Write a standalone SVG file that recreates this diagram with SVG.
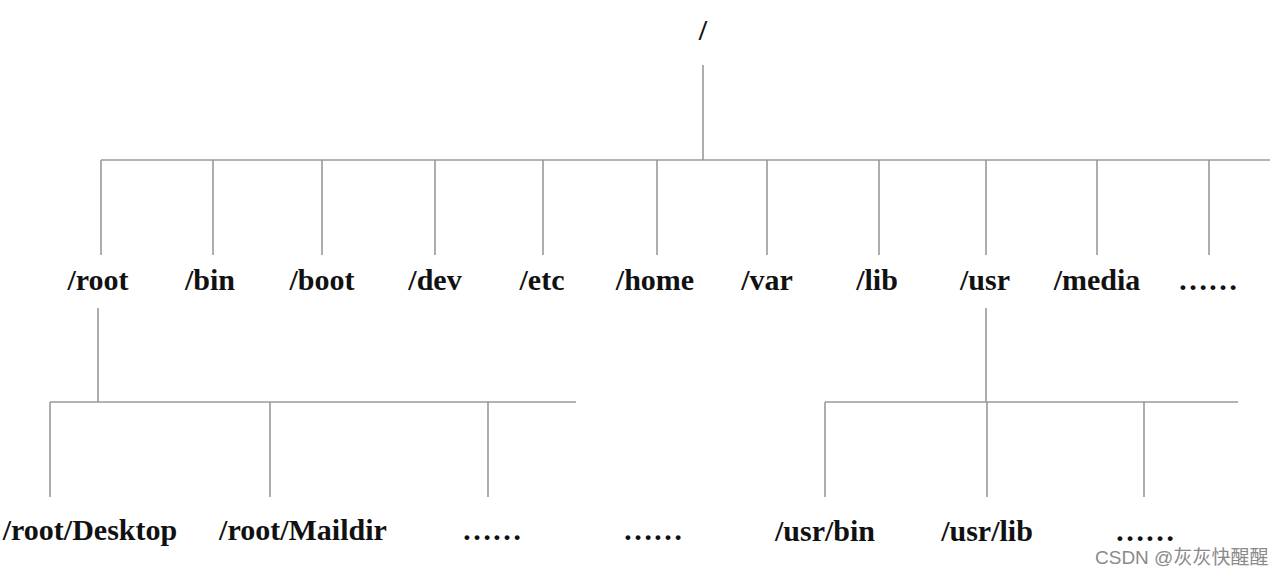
<svg xmlns="http://www.w3.org/2000/svg" width="1281" height="578" viewBox="0 0 1281 578">
<style>
.l{stroke:#9a9a9a;stroke-width:1.6;fill:none}
.t{font-family:"Liberation Serif",serif;font-weight:bold;font-size:30px;fill:#111;text-anchor:middle}
.w{font-family:"Liberation Sans","Noto Sans CJK SC",sans-serif;font-size:19px;fill:#8a8a8a}
</style>
<rect width="1281" height="578" fill="#fff"/>
<g id="connectors">
<path class="l" d="M703 65V160M101 160H1270M101 160V255M213 160V255M322 160V255M435 160V255M543 160V255M657 160V255M767 160V255M879 160V255M986 160V255M1097 160V255M1209 160V255"/>
<path class="l" d="M98 308V402M50 402H576M50 402V497M270 402V497M488 402V497"/>
<path class="l" d="M986 308V402M825 402H1238M825 402V497M987 402V497M1144 402V497"/>
</g>
<g id="n-root-dir"><text class="t" x="703" y="40" font-weight="normal" font-size="26" fill="#444">/</text></g>
<g id="n-root"><text class="t" x="98" y="290">/root</text></g>
<g id="n-bin"><text class="t" x="210" y="290">/bin</text></g>
<g id="n-boot"><text class="t" x="322" y="290">/boot</text></g>
<g id="n-dev"><text class="t" x="435" y="290">/dev</text></g>
<g id="n-etc"><text class="t" x="542" y="290">/etc</text></g>
<g id="n-home"><text class="t" x="655" y="290">/home</text></g>
<g id="n-var"><text class="t" x="767" y="290">/var</text></g>
<g id="n-lib"><text class="t" x="877" y="290">/lib</text></g>
<g id="n-usr"><text class="t" x="985" y="290">/usr</text></g>
<g id="n-media"><text class="t" x="1097" y="290">/media</text></g>
<g id="n-more1"><text class="t" x="1208" y="290">……</text></g>
<g id="n-desktop"><text class="t" x="90" y="540">/root/Desktop</text></g>
<g id="n-maildir"><text class="t" x="303" y="540">/root/Maildir</text></g>
<g id="n-more2"><text class="t" x="492" y="540">……</text></g>
<g id="n-more3"><text class="t" x="653" y="540">……</text></g>
<g id="n-usrbin"><text class="t" x="825" y="541">/usr/bin</text></g>
<g id="n-usrlib"><text class="t" x="987" y="541">/usr/lib</text></g>
<g id="n-more4"><text class="t" x="1145" y="541">……</text></g>
<text class="w" x="1095" y="564">CSDN @灰灰快醒醒</text>
</svg>
